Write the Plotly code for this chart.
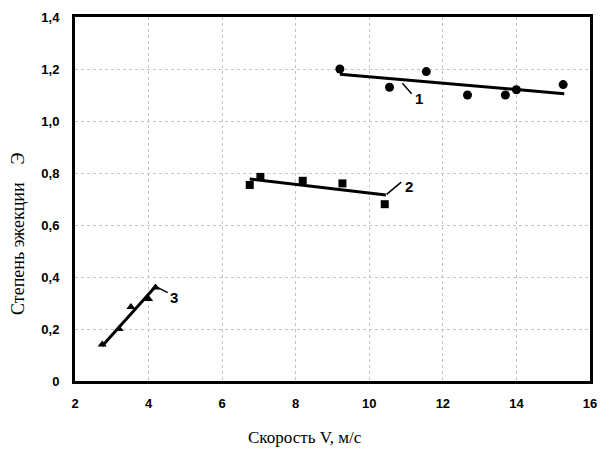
import plotly.graph_objects as go

# Series 1 (circles)
x1 = [9.2, 10.55, 11.55, 12.67, 13.7, 14.0, 15.27]
y1 = [1.20, 1.13, 1.19, 1.10, 1.10, 1.12, 1.14]
fit1_x = [9.2, 15.3]
fit1_y = [1.18, 1.105]

# Series 2 (squares)
x2 = [6.75, 7.04, 8.19, 9.27, 10.42]
y2 = [0.754, 0.785, 0.77, 0.76, 0.68]
fit2_x = [6.75, 10.45]
fit2_y = [0.777, 0.715]

# Series 3 (triangles)
x3 = [2.74, 3.2, 3.52, 4.0, 4.19]
y3 = [0.14, 0.20, 0.285, 0.315, 0.36]
fit3_x = [2.74, 4.2]
fit3_y = [0.135, 0.365]

x_ticks = [2, 4, 6, 8, 10, 12, 14, 16]
y_ticks = [0, 0.2, 0.4, 0.6, 0.8, 1.0, 1.2, 1.4]
y_tick_labels = ["0", "0,2", "0,4", "0,6", "0,8", "1,0", "1,2", "1,4"]

fig = go.Figure()

for fx, fy in [(fit1_x, fit1_y), (fit2_x, fit2_y), (fit3_x, fit3_y)]:
    fig.add_trace(go.Scatter(x=fx, y=fy, mode="lines",
                             line=dict(color="black", width=3), showlegend=False))

fig.add_trace(go.Scatter(x=x1, y=y1, mode="markers",
                         marker=dict(symbol="circle", size=9, color="black"), showlegend=False))
fig.add_trace(go.Scatter(x=x2, y=y2, mode="markers",
                         marker=dict(symbol="square", size=8, color="black"), showlegend=False))
fig.add_trace(go.Scatter(x=x3, y=y3, mode="markers",
                         marker=dict(symbol="triangle-up", size=8, color="black"), showlegend=False))

# leader lines for labels
leaders = [([10.9, 11.15], [1.145, 1.105], "1", 11.35, 1.085),
           ([10.47, 10.87], [0.718, 0.765], "2", 11.08, 0.75),
           ([4.24, 4.52], [0.36, 0.34], "3", 4.7, 0.32)]
for lx, ly, txt, tx, ty in leaders:
    fig.add_trace(go.Scatter(x=lx, y=ly, mode="lines",
                             line=dict(color="black", width=1.5), showlegend=False))
    fig.add_annotation(x=tx, y=ty, text="<b>%s</b>" % txt, showarrow=False,
                       font=dict(family="Liberation Sans, Arial", size=15, color="black"))

axis_common = dict(
    showline=True, linecolor="black", linewidth=3, mirror=True,
    showgrid=True, gridcolor="#c4c4c4", griddash="dot", gridwidth=1,
    zeroline=False, ticks="",
    tickfont=dict(family="Liberation Sans, Arial", size=13, color="black", weight="bold"),
)

fig.update_xaxes(range=[2, 16], tickvals=x_ticks, ticktext=[str(v) for v in x_ticks],
                 ticklabelstandoff=8, **axis_common)
fig.update_yaxes(range=[0, 1.4], tickvals=y_ticks, ticktext=y_tick_labels,
                 ticklabelstandoff=10, **axis_common)

fig.add_annotation(text="Скорость V, м/с", xref="paper", yref="paper",
                   x=0.446, y=-0.155, xanchor="center", yanchor="middle", showarrow=False,
                   font=dict(family="Liberation Serif, Times New Roman", size=17, color="black"))
fig.add_annotation(text="Степень эжекции&nbsp;&nbsp;&nbsp;&nbsp;Э", xref="paper", yref="paper",
                   x=-0.112, y=0.405, xanchor="center", yanchor="middle", showarrow=False,
                   textangle=-90,
                   font=dict(family="Liberation Serif, Times New Roman", size=18, color="black"))

fig.update_layout(
    width=607, height=450,
    margin=dict(l=75, r=10, t=16, b=69),
    paper_bgcolor="white", plot_bgcolor="white",
)

fig.write_html("out.html")
